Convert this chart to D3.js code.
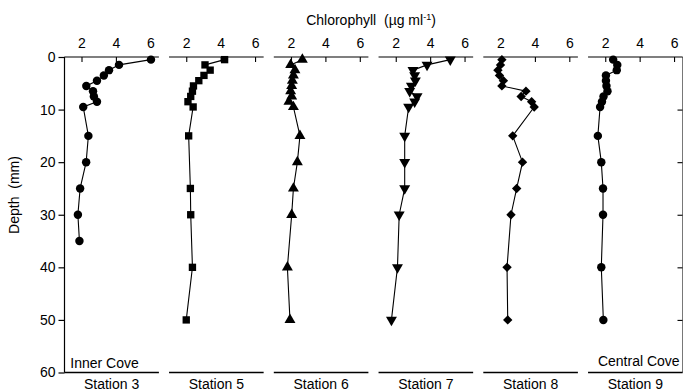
<!DOCTYPE html>
<html>
<head>
<meta charset="utf-8">
<script src="https://cdn.jsdelivr.net/npm/d3@7"></script>
<style>
  html, body { margin: 0; padding: 0; background: #fff; }
  svg { display: block; }
  text { font-family: "Liberation Sans", Arial, Helvetica, sans-serif; fill: #000; }
</style>
</head>
<body>
<svg id="chart" width="684" height="392"></svg>
<script>
// Chlorophyll depth profiles at six stations
const stations = ["Station 3", "Station 5", "Station 6", "Station 7", "Station 8", "Station 9"];
const symbols = ["circle", "square", "triangle", "triangleDown", "diamond", "circle"];

const depth3 = [0.5, 1.5, 2.5, 3.5, 4.5, 5.5, 6.5, 7.5, 8.5, 9.5, 15, 20, 25, 30, 35];
const chl3   = [6.04, 4.18, 3.6, 3.3, 2.9, 2.28, 2.67, 2.72, 2.9, 2.1, 2.4, 2.27, 1.92, 1.79, 1.88];

const depth5 = [0.5, 1.5, 2.5, 3.5, 4.5, 5.5, 6.5, 7.5, 8.5, 9.5, 15, 25, 30, 40, 50];
const chl5   = [4.23, 3.09, 3.39, 3.03, 2.73, 2.42, 2.36, 2.26, 2.1, 2.4, 2.14, 2.24, 2.26, 2.36, 2.0];

const depth6 = [0.5, 1.5, 2.5, 3.5, 4.5, 5.5, 6.5, 7.5, 8.5, 9.5, 15, 20, 25, 30, 40, 50];
const chl6   = [2.66, 1.98, 2.23, 2.14, 2.08, 2.04, 1.98, 2.04, 1.88, 2.14, 2.52, 2.37, 2.14, 2.04, 1.79, 1.94];

const depth7 = [0.5, 1.5, 2.5, 3.5, 4.5, 5.5, 6.5, 7.5, 8.5, 9.5, 15, 20, 25, 30, 40, 50];
const chl7   = [5.17, 3.82, 3.0, 3.1, 3.14, 2.91, 2.81, 3.24, 3.1, 2.75, 2.52, 2.52, 2.52, 2.2, 2.1, 1.75];

const depth8 = [0.5, 1.5, 2.5, 3.5, 4.5, 5.5, 6.5, 7.5, 8.5, 9.5, 15, 20, 25, 30, 40, 50];
const chl8   = [2.08, 2.0, 1.85, 1.94, 2.17, 2.08, 3.48, 3.2, 3.81, 3.96, 2.71, 3.28, 2.94, 2.61, 2.38, 2.42];

const depth9 = [0.5, 1.5, 2.5, 3.5, 4.5, 5.5, 6.5, 7.5, 8.5, 9.5, 15, 20, 25, 30, 40, 50];
const chl9   = [2.46, 2.7, 2.67, 2.04, 2.04, 2.07, 2.13, 1.9, 1.81, 1.7, 1.57, 1.77, 1.87, 1.87, 1.77, 1.89];

const depthTicks = [0, 10, 20, 30, 40, 50, 60];
const chlTicks = [2, 4, 6];
const sites = [{ label: "Inner Cove", panel: 0, align: "start" }, { label: "Central Cove", panel: 5, align: "end" }];

const profiles = [
  { depth: depth3, chl: chl3 },
  { depth: depth5, chl: chl5 },
  { depth: depth6, chl: chl6 },
  { depth: depth7, chl: chl7 },
  { depth: depth8, chl: chl8 },
  { depth: depth9, chl: chl9 }
];

const FONT = "Liberation Sans, Arial, sans-serif";
const svg = d3.select("#chart");

// shared depth scale (downwards)
const yTop = 57, yBottom = 372.5;
const y = d3.scaleLinear().domain([0, 60]).range([yTop, yBottom]);

// each panel: chlorophyll scale from 1 to 6.5
const unit = 17.2, pitch = 104.75, firstTick2 = 81.5;
const panelX = stations.map((s, i) => {
  const t2 = firstTick2 + i * pitch;
  return d3.scaleLinear().domain([1, 6.5]).range([t2 - unit, t2 + 4.5 * unit]);
});

// left depth axis
const yAxis = d3.axisLeft(y).tickValues(depthTicks).tickSize(6).tickPadding(3);
const gy = svg.append("g").attr("transform", "translate(64.5,0)").call(yAxis);
gy.select(".domain").attr("d", `M0,${yTop}V${yBottom}`).attr("stroke", "#000").attr("stroke-width", 1.2);
gy.selectAll(".tick line").attr("stroke", "#000").attr("stroke-width", 1.2);
gy.selectAll(".tick text").style("font-size", "14px").style("font-family", FONT);

// right depth axis with inward ticks
const yAxisR = d3.axisLeft(y).tickValues([10, 20, 30, 40, 50]).tickSize(5).tickFormat("");
const gyr = svg.append("g").attr("transform", "translate(682.5,0)").call(yAxisR);
gyr.select(".domain").attr("d", `M0,${yTop}V${yBottom}`).attr("stroke", "#555").attr("stroke-width", 0.8);
gyr.selectAll(".tick line").attr("stroke", "#000").attr("stroke-width", 1.1);

const shapeOf = {
  circle: { type: d3.symbolCircle, size: 56, rot: 0 },
  square: { type: d3.symbolSquare, size: 54, rot: 0 },
  triangle: { type: d3.symbolTriangle, size: 52, rot: 0 },
  triangleDown: { type: d3.symbolTriangle, size: 52, rot: 180 },
  diamond: { type: d3.symbolSquare, size: 44, rot: 45 }
};

profiles.forEach((p, i) => {
  const x = panelX[i];
  const [x0, x1] = x.range();
  const g = svg.append("g");

  // top chlorophyll axis, ticks pointing into the panel
  const xAxis = d3.axisTop(x).tickValues(chlTicks).tickSize(-5).tickPadding(9).tickFormat(d3.format("d"));
  const gx = g.append("g").attr("transform", `translate(0,${yTop})`).call(xAxis);
  gx.select(".domain").attr("d", `M${x0},0H${x1}`).attr("stroke", "#000").attr("stroke-width", 1.2);
  gx.selectAll(".tick line").attr("stroke", "#000").attr("stroke-width", 1.1);
  gx.selectAll(".tick text").style("font-size", "14px").style("font-family", FONT);

  // bottom frame line
  g.append("line")
    .attr("x1", x0).attr("x2", x1)
    .attr("y1", yBottom).attr("y2", yBottom)
    .attr("stroke", "#000").attr("stroke-width", 1.3);

  const pts = p.depth.map((d, k) => [x(p.chl[k]), y(d)]);

  g.append("path")
    .attr("d", d3.line()(pts))
    .attr("fill", "none").attr("stroke", "#000").attr("stroke-width", 1.1);

  const sh = shapeOf[symbols[i]];
  g.selectAll("path.mark").data(pts).join("path")
    .attr("class", "mark")
    .attr("d", d3.symbol().type(sh.type).size(sh.size))
    .attr("transform", d => `translate(${d[0]},${d[1]}) rotate(${sh.rot})`)
    .attr("fill", "#000");

  // station label
  svg.append("text")
    .attr("x", (x0 + x1) / 2).attr("y", 389)
    .attr("text-anchor", "middle")
    .style("font-size", "14px")
    .text(stations[i]);
});

// site names inside the first and last panels
sites.forEach(s => {
  const [x0, x1] = panelX[s.panel].range();
  svg.append("text")
    .attr("x", s.align === "start" ? x0 + 6 : x1 - 3)
    .attr("y", s.align === "start" ? 368 : 366)
    .attr("text-anchor", s.align)
    .style("font-size", "14px")
    .text(s.label);
});

// axis titles
const title = svg.append("text")
  .attr("x", 371).attr("y", 25)
  .attr("text-anchor", "middle")
  .style("font-size", "14px")
  .attr("xml:space", "preserve");
title.append("tspan").text("Chlorophyll  (\u00b5g ml");
title.append("tspan").attr("dy", -5).style("font-size", "9px").text("-1");
title.append("tspan").attr("dy", 5).text(")");

svg.append("text")
  .attr("transform", "translate(19,195) rotate(-90)")
  .attr("text-anchor", "middle")
  .style("font-size", "14px")
  .attr("xml:space", "preserve")
  .text("Depth  (mm)");
</script>
</body>
</html>
